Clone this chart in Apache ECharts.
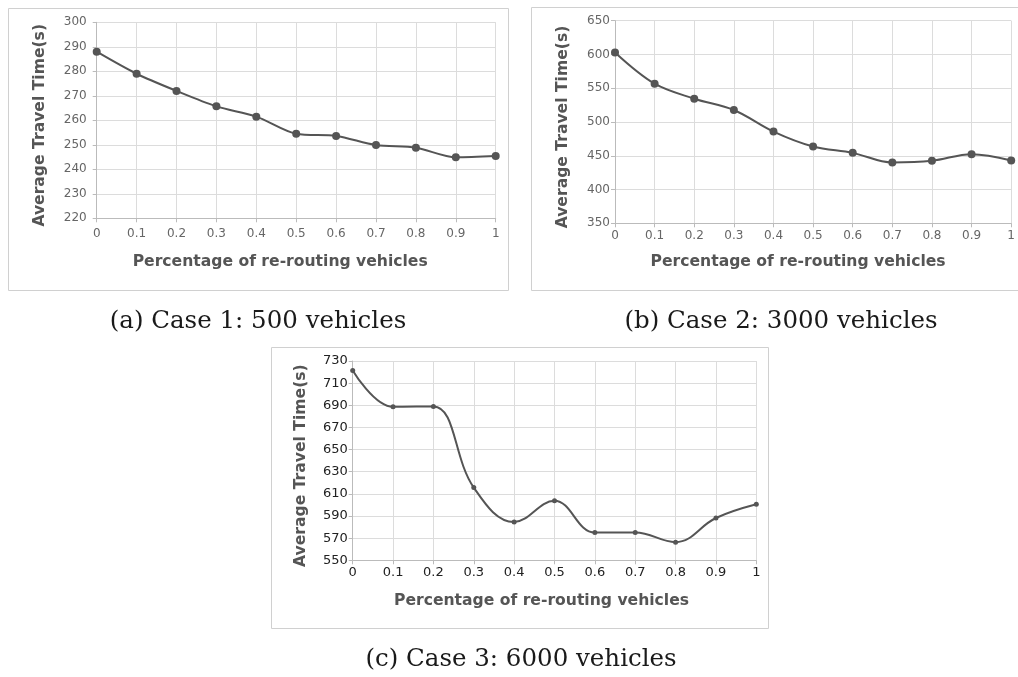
<!DOCTYPE html>
<html>
<head>
<meta charset="utf-8">
<script src="https://cdn.jsdelivr.net/npm/echarts@6/dist/echarts.min.js"></script>
<style>
html,body{margin:0;padding:0;background:#fff;}
#chart{width:1018px;height:677px;}
</style>
</head>
<body>
<div id="chart"></div>
<script>
// ---- data ----
const xLabels = ['0','0.1','0.2','0.3','0.4','0.5','0.6','0.7','0.8','0.9','1'];
const case1Values = [288, 279, 272, 265.7, 261.5, 254.5, 253.6, 249.9, 248.8, 244.9, 245.4];
const case2Values = [603, 556.7, 534.5, 517.8, 485.8, 463.7, 454.3, 440, 442.5, 452.4, 443];
const case3Values = [721.5, 688.6, 689, 615.7, 584.6, 603.8, 575, 575.2, 566.4, 588.2, 600.6];
const captions = ['(a) Case 1: 500 vehicles', '(b) Case 2: 3000 vehicles', '(c) Case 3: 6000 vehicles'];
const xTitle = 'Percentage of re-routing vehicles';
const yTitle = 'Average Travel Time(s)';

const FONT = 'DejaVu Sans';
const lineColor = '#555';
const TITLE_SIZE = 15.6;

function xAxisCfg(gridIndex, labelColor, labelSize, labelMargin, nameGap, shift) {
  return {
    type: 'category', gridIndex, data: xLabels, boundaryGap: false,
    axisLine: { lineStyle: { color: '#bbb' } },
    axisTick: { show: true, length: 4, lineStyle: { color: '#bbb' }, alignWithLabel: true },
    axisLabel: { color: labelColor, fontFamily: FONT, fontSize: labelSize, margin: labelMargin, interval: 0 },
    splitLine: { show: true, lineStyle: { color: '#dcdcdc' } },
    name: xTitle, nameLocation: 'middle', nameGap,
    nameTextStyle: { fontFamily: FONT, fontWeight: 'bold', fontSize: TITLE_SIZE, color: '#555', padding: [0, shift, 0, 0] }
  };
}
function yAxisCfg(gridIndex, min, max, interval, labelColor, labelSize, labelMargin, nameGap) {
  return {
    type: 'value', gridIndex, min, max, interval,
    axisLine: { show: true, lineStyle: { color: '#bbb' } },
    axisTick: { show: true, length: 4, lineStyle: { color: '#bbb' } },
    axisLabel: { color: labelColor, fontFamily: FONT, fontSize: labelSize, margin: labelMargin },
    splitLine: { show: true, lineStyle: { color: '#dcdcdc' } },
    name: yTitle, nameLocation: 'middle', nameGap,
    nameTextStyle: { fontFamily: FONT, fontWeight: 'bold', fontSize: TITLE_SIZE, color: '#555', padding: [0, 10, 0, 0] }
  };
}
function seriesCfg(idx, data, symbolSize, smooth) {
  return {
    type: 'line', xAxisIndex: idx, yAxisIndex: idx, data,
    smooth, symbol: 'circle', symbolSize, showSymbol: true,
    lineStyle: { color: lineColor, width: 2 },
    itemStyle: { color: lineColor },
    emphasis: { disabled: true }, animation: false
  };
}

const chart = echarts.init(document.getElementById('chart'), null, { renderer: 'canvas' });
const capFont = '24.5px "DejaVu Serif"';
chart.setOption({
  backgroundColor: '#fff',
  animation: false,
  grid: [
    { left: 96.7, top: 22.3, width: 399, height: 196 },
    { left: 615, top: 20.7, width: 402.2, height: 202.6 },
    { left: 352.7, top: 361, width: 403.6, height: 199.3 }
  ],
  xAxis: [
    xAxisCfg(0, '#666', 12, 10, 36, 32),
    xAxisCfg(1, '#666', 12, 7, 31, 30),
    xAxisCfg(2, '#222', 13, 6, 33, 26)
  ],
  yAxis: [
    yAxisCfg(0, 220, 300, 10, '#666', 12, 10, 49),
    yAxisCfg(1, 350, 650, 50, '#666', 12, 5, 44),
    yAxisCfg(2, 550, 730, 20, '#222', 13, 5, 44)
  ],
  series: [
    seriesCfg(0, case1Values, 8, 0.3),
    seriesCfg(1, case2Values, 8, 0.35),
    seriesCfg(2, case3Values, 5, 0.4)
  ],
  graphic: [
    { type: 'rect', shape: { x: 8.5, y: 8.5, width: 500, height: 282 }, style: { fill: null, stroke: '#d0d0d0', lineWidth: 1 }, silent: true, z: -1 },
    { type: 'rect', shape: { x: 531.5, y: 7.5, width: 500, height: 283 }, style: { fill: null, stroke: '#d0d0d0', lineWidth: 1 }, silent: true, z: -1 },
    { type: 'rect', shape: { x: 271.5, y: 347.5, width: 497, height: 281 }, style: { fill: null, stroke: '#d0d0d0', lineWidth: 1 }, silent: true, z: -1 },
    { type: 'text', x: 258, y: 322, style: { text: captions[0], font: capFont, fill: '#1a1a1a', textAlign: 'center', textVerticalAlign: 'middle' } },
    { type: 'text', x: 781, y: 322, style: { text: captions[1], font: capFont, fill: '#1a1a1a', textAlign: 'center', textVerticalAlign: 'middle' } },
    { type: 'text', x: 521, y: 660, style: { text: captions[2], font: capFont, fill: '#1a1a1a', textAlign: 'center', textVerticalAlign: 'middle' } }
  ]
});
</script>
</body>
</html>
